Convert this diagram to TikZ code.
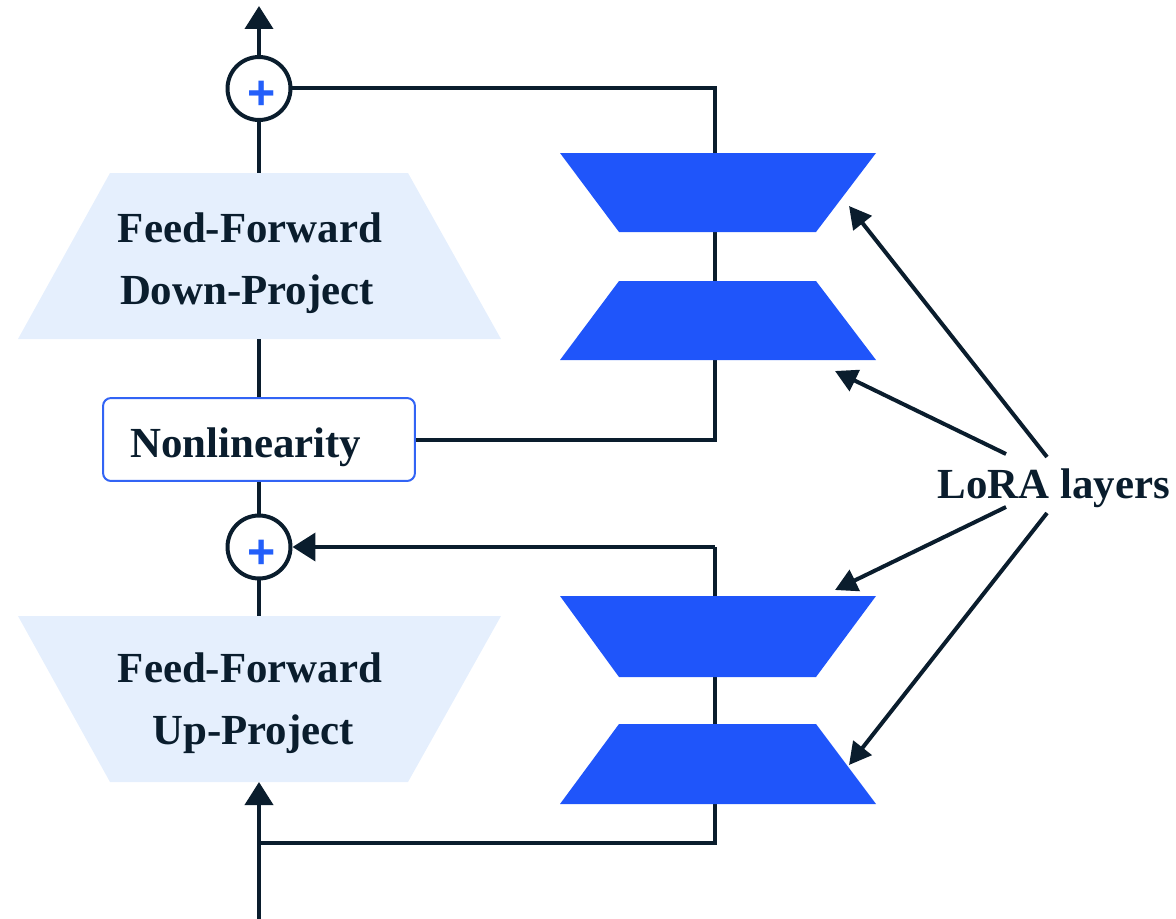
\documentclass[tikz,border=0pt]{standalone}
\usepackage{fontspec}
\setmainfont{Liberation Serif}
\newfontfamily\plusfont{Liberation Sans}
\usetikzlibrary{arrows.meta}
\definecolor{navy}{RGB}{10,29,45}
\definecolor{lorablue}{RGB}{31,85,250}
\definecolor{ffblue}{RGB}{229,239,253}
\definecolor{nlblue}{RGB}{50,100,245}
\definecolor{plusblue}{RGB}{35,95,250}
\begin{document}
\begin{tikzpicture}[x=0.02cm,y=-0.02cm,
  conn/.style={draw=navy,line width=0.08cm},
  arr/.style={conn,-{Triangle[length=0.46cm,width=0.56cm]}},
  loraarr/.style={conn,-{Triangle[length=0.44cm,width=0.46cm]}},
  lbl/.style={font=\fontsize{24.4}{29}\selectfont\bfseries,text=navy,inner sep=0,anchor=base},
  sumnode/.style={circle,draw=navy,line width=0.08cm,fill=white,minimum size=1.26cm,inner sep=0},
  plussign/.style={font=\plusfont\bfseries\fontsize{27.5}{30}\selectfont,text=plusblue,inner sep=0,anchor=base},
  ffshape/.style={fill=ffblue},
  lorashape/.style={fill=lorablue},
  nlbox/.style={draw=nlblue,line width=0.04cm,fill=white,rounded corners=0.16cm,minimum width=6.24cm,minimum height=1.66cm,inner sep=0}
]
\useasboundingbox (0,0) rectangle (1176,919);

% feed-forward blocks
\fill[ffshape] (110,173) -- (408,173) -- (501,339) -- (18,339) -- cycle;
\fill[ffshape] (18,616) -- (501,616) -- (408,782) -- (110,782) -- cycle;
\coordinate (ffdT) at (259,173);
\coordinate (ffdB) at (259,339);
\coordinate (ffuT) at (259,616);
\coordinate (ffuB) at (259,782);

\node[nlbox] (nl) at (259,439.5) {};
\node[sumnode] (c1) at (259,88.5) {};
\node[sumnode] (c2) at (259,547) {};

% coordinates
\coordinate (top) at (259,6);
\coordinate (in) at (259,919);
\coordinate (br) at (259,843);
\coordinate (k1) at (715,88.5);
\coordinate (k2) at (715,439.5);
\coordinate (k3) at (715,547);
\coordinate (k4) at (715,843);

% connectors
\draw[arr] (c1) -- (top);
\draw[conn] (c1) -- (ffdT);
\draw[conn] (ffdB) -- (nl);
\draw[conn] (nl) -- (c2);
\draw[conn] (c2) -- (ffuT);
\draw[arr] (in) -- (ffuB);
\draw[conn] (c1.east) -- (k1) -- (k2) -- (nl.east);
\draw[conn] (br) -- (k4) -- (k3);
\draw[arr] (k3) -- (c2.east);

% LoRA layers
\fill[lorashape] (560,153) -- (876,153) -- (816,232) -- (619,232) -- cycle;
\fill[lorashape] (619,281) -- (816,281) -- (876,360) -- (560,360) -- cycle;
\fill[lorashape] (560,596) -- (876,596) -- (816,677) -- (619,677) -- cycle;
\fill[lorashape] (619,724) -- (816,724) -- (876,804) -- (560,804) -- cycle;

% texts
\node[lbl] (ffdA) at (250,242) {Feed-Forward};
\node[lbl] (ffdBt) at (247,304) {Down-Project};
\node[lbl] (ffuA) at (250,682) {Feed-Forward};
\node[lbl] (ffuBt) at (253,744) {Up-Project};
\node[lbl,anchor=base west] (nltext) at (130,457) {Nonlinearity};
\node[lbl] (lora) at (1054,498) {LoRA layers};
\node[plussign] (p1) at (261.5,110) {+};
\node[plussign] (p2) at (261.5,568.5) {+};

% LoRA arrows
\coordinate (s1) at (1047,457);
\coordinate (t1) at (849,206);
\coordinate (s2) at (1006,454);
\coordinate (t2) at (835,371);
\coordinate (s3) at (1006,507);
\coordinate (t3) at (835,590);
\coordinate (s4) at (1047,513);
\coordinate (t4) at (849,765);
\draw[loraarr] (s1) -- (t1);
\draw[loraarr] (s2) -- (t2);
\draw[loraarr] (s3) -- (t3);
\draw[loraarr] (s4) -- (t4);
\end{tikzpicture}
\end{document}
